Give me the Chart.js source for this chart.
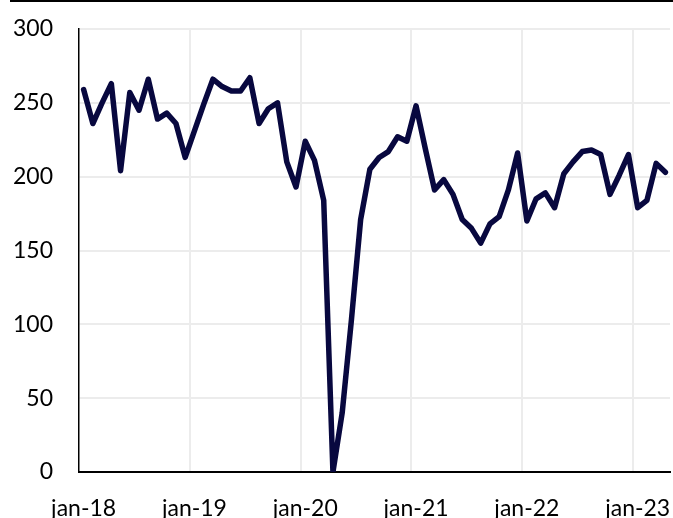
<!DOCTYPE html>
<html lang="nl">
<head>
    <meta charset="UTF-8">
    <title>Maandelijkse reeks</title>
    <script src="https://cdn.jsdelivr.net/npm/chart.js"></script>
    <style>
        html, body { margin: 0; padding: 0; background: #fff; overflow: hidden; }
        .wrap { position: relative; width: 673px; height: 518px; }
        .topline { position: absolute; left: 10px; right: 0; top: 0; height: 2px; background: #000; }
    </style>
</head>
<body>
    <div class="wrap">
        <canvas id="grafiek" width="673" height="518"></canvas>
        <div class="topline"></div>
    </div>
    <script>
        // maanden en jaren voor de categorie-as
        const maanden = ["jan", "feb", "mrt", "apr", "mei", "jun", "jul", "aug", "sep", "okt", "nov", "dec"];
        const jaren = ["18", "19", "20", "21", "22", "23"];

        const w2018 = [259, 236, 250, 263, 204, 257, 245, 266, 239, 243, 236, 213];
        const w2019 = [231, 249, 266, 261, 258, 258, 267, 236, 246, 250, 210, 193];
        const w2020 = [224, 211, 184, 0, 40, 103, 171, 205, 213, 217, 227, 224];
        const w2021 = [248, 219, 191, 198, 188, 171, 165, 155, 168, 173, 191, 216];
        const w2022 = [170, 185, 189, 179, 202, 210, 217, 218, 215, 188, 201, 215];
        const w2023 = [179, 184, 209, 203];

        const waarden = [].concat(w2018, w2019, w2020, w2021, w2022, w2023);

        let labels = [];
        jaren.forEach(j => maanden.forEach(m => labels.push(m + "-" + j)));
        labels = labels.slice(0, waarden.length);

        const yTicks = [0, 50, 100, 150, 200, 250, 300];

        const lettertype = { family: "Lato", size: 23 };

        const ctx = document.getElementById('grafiek').getContext('2d');
        const chart = new Chart(ctx, {
            type: 'line',
            data: {
                labels: labels,
                datasets: [{
                    data: waarden,
                    borderColor: '#08083f',
                    borderWidth: 5.5,
                    borderJoinStyle: 'round',
                    borderCapStyle: 'round',
                    pointRadius: 0,
                    tension: 0,
                    fill: false
                }]
            },
            options: {
                responsive: false,
                animation: false,
                layout: { autoPadding: false, padding: { top: 29, right: 3, left: 0, bottom: 0 } },
                plugins: {
                    legend: { display: false },
                    tooltip: { enabled: false }
                },
                scales: {
                    x: {
                        type: 'category',
                        offset: true,
                        afterFit: s => { s.height = 46; s.paddingLeft = 0; s.paddingRight = 0; },
                        grid: {
                            offset: true,
                            drawTicks: false,
                            lineWidth: 2,
                            color: c => (c.index % 12 === 0 && c.index > 0 && c.index < waarden.length) ? '#ececec' : 'rgba(0,0,0,0)'
                        },
                        border: { color: '#000', width: 2 },
                        ticks: {
                            autoSkip: false,
                            maxRotation: 0,
                            padding: 23,
                            color: '#000',
                            font: lettertype,
                            callback: (v, i) => i % 12 === 0 ? labels[i] : ''
                        }
                    },
                    y: {
                        min: 0,
                        max: 300,
                        afterFit: s => { s.width = 79; s.paddingTop = 0; s.paddingBottom = 0; },
                        afterBuildTicks: s => { s.ticks = yTicks.map(v => ({ value: v })); },
                        grid: { drawTicks: false, lineWidth: 2, color: '#ececec' },
                        border: { color: '#000', width: 1.5 },
                        ticks: {
                            padding: 26,
                            color: '#000',
                            font: lettertype
                        }
                    }
                }
            }
        });
    </script>
</body>
</html>
